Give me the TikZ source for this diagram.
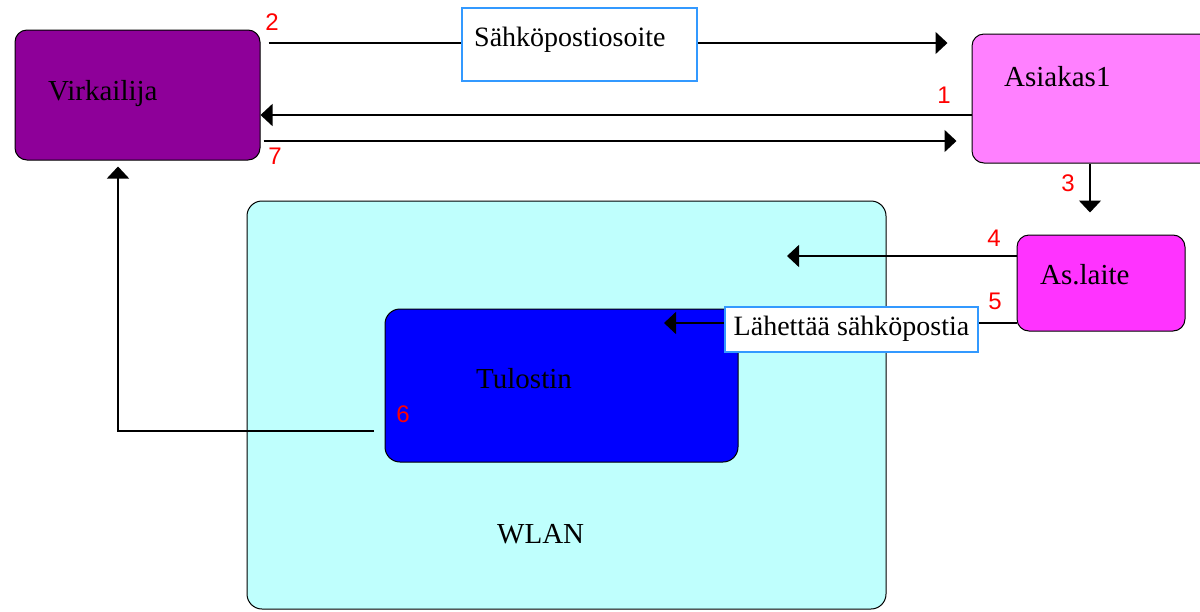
\documentclass[tikz,border=0pt]{standalone}
\usepackage{fontspec}
\setmainfont{Liberation Serif}
\newfontfamily\numfont{Liberation Sans}
\usetikzlibrary{arrows.meta}
\definecolor{virkfill}{RGB}{142,0,153}
\definecolor{asiakasfill}{RGB}{255,128,255}
\definecolor{laitefill}{RGB}{255,51,255}
\definecolor{wlanfill}{RGB}{191,255,253}
\definecolor{tulostinfill}{RGB}{0,0,255}
\definecolor{tagblue}{RGB}{51,153,255}
\begin{document}
\begin{tikzpicture}[x=1pt,y=-1pt,
  box/.style={draw=black, line width=1pt, rounded corners=12pt, inner sep=0pt},
  lbl/.style={font=\fontsize{29}{34}\selectfont, anchor=base west, inner sep=0pt},
  taglbl/.style={font=\fontsize{28}{33}\selectfont, inner sep=0pt},
  num/.style={font=\numfont\fontsize{24}{28}\selectfont, text=red, inner sep=0pt},
  tag/.style={draw=tagblue, fill=white, line width=1.5pt, inner sep=0pt},
  arr/.style={line width=1.5pt, -{Triangle[length=12pt,width=22pt]}},
  wire/.style={line width=1.5pt}]
\useasboundingbox (0,0) rectangle (1200,611);
\clip (0,0) rectangle (1200,611);

% boxes
\node[box, fill=virkfill, minimum width=245pt, minimum height=130pt] (virk) at (137.5,95) {};
\node[box, fill=asiakasfill, minimum width=243pt, minimum height=129pt] (asiakas) at (1093.5,98.5) {};
\node[box, fill=laitefill, minimum width=168pt, minimum height=96pt] (laite) at (1101,283) {};
\node[box, fill=wlanfill, rounded corners=15pt, minimum width=639pt, minimum height=408pt] (wlan) at (566.5,405) {};
\node[box, fill=tulostinfill, rounded corners=15pt, minimum width=353pt, minimum height=153pt] (tulostin) at (561.5,385.5) {};

% box labels
\node[lbl] (tvirk) at (48,100) {Virkailija};
\node[lbl] (tasiakas) at (1004,86) {Asiakas1};
\node[lbl] (tlaite) at (1040,284) {As.laite};
\node[lbl] (ttulostin) at (476,388) {Tulostin};
\node[lbl] (twlan) at (497,543) {WLAN};

% free ends of connectors
\coordinate (t4) at (787,256);
\coordinate (t5) at (664,323);
\coordinate (s6) at (374,431);

% connectors
\draw[arr, shorten <=8pt, shorten >=24pt] (virk.east |- 0,43) -- (asiakas.west |- 0,43);
\draw[arr] (asiakas.west |- 0,115) -- (virk.east |- 0,115);
\draw[arr, shorten <=3pt, shorten >=15pt] (virk.east |- 0,141) -- (asiakas.west |- 0,141);
\draw[arr, shorten >=22pt] (asiakas.south -| 1090,0) -- (laite.north -| 1090,0);
\draw[arr] (laite.west |- t4) -- (t4);
\draw[arr] (laite.west |- t5) -- (t5);
\draw[arr, shorten >=6pt] (s6) -| (virk.south -| 118,0);

% text boxes on the connectors
\node[tag, minimum width=235pt, minimum height=73pt] (tag1) at (579.5,44.5) {};
\node[taglbl, anchor=base west] (ttag1) at (474,46) {Sähköpostiosoite};
\node[tag, minimum width=253pt, minimum height=45pt] (tag2) at (851.5,329.5) {};
\node[taglbl, anchor=base] (ttag2) at (851.5,335) {Lähettää sähköpostia};

% step numbers
\node[num] (n1) at (944,95) {1};
\node[num] (n2) at (272,22) {2};
\node[num] (n3) at (1068,183) {3};
\node[num] (n4) at (994,238) {4};
\node[num] (n5) at (995,301) {5};
\node[num] (n6) at (403,414) {6};
\node[num] (n7) at (275,156) {7};
\end{tikzpicture}
\end{document}
